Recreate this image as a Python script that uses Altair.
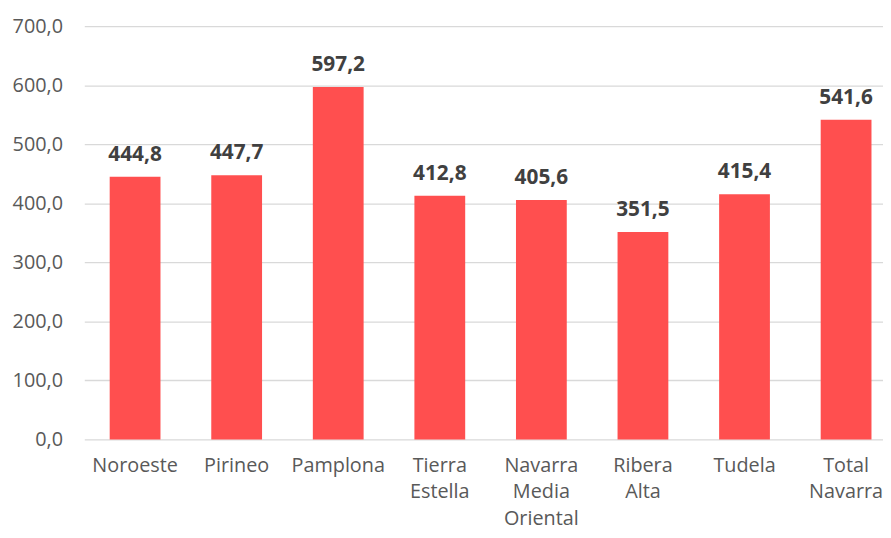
import altair as alt
import pandas as pd

categories = ["Noroeste", "Pirineo", "Pamplona", "Tierra|Estella", "Navarra|Media|Oriental",
              "Ribera|Alta", "Tudela", "Total|Navarra"]
values = [444.8, 447.7, 597.2, 412.8, 405.6, 351.5, 415.4, 541.6]

df = pd.DataFrame({"cat": categories, "val": values})

font = "Open Sans"

base = alt.Chart(df).encode(
    x=alt.X("cat:N", sort=categories,
            scale=alt.Scale(paddingInner=0.5, paddingOuter=0.25, range=[0, 820]),
            axis=alt.Axis(title=None, labelAngle=0, labelExpr="split(datum.label, '|')",
                          labelFont=font, labelFontSize=20, labelColor="#595959",
                          labelPadding=16, labelLineHeight=27, ticks=False, domain=False,
                          labelBaseline="top")),
    y=alt.Y("val:Q", scale=alt.Scale(domain=[0, 700], nice=False),
            axis=alt.Axis(title=None, values=[0, 100, 200, 300, 400, 500, 600, 700],
                          labelExpr="replace(format(datum.value, '.1f'), '.', ',')",
                          labelFont=font, labelFontSize=20, labelColor="#595959",
                          labelPadding=22, ticks=False, domain=False,
                          gridColor="#d9d9d9", gridWidth=1.3)),
)

bars = base.mark_bar(color="#FF4F4F")
labels = base.transform_calculate(
    lbl="replace(format(datum.val, '.1f'), '.', ',')"
).mark_text(font=font, fontSize=21, fontWeight="bold", color="#404040",
            baseline="bottom", dy=-12).encode(text="lbl:N")

chart = (bars + labels).properties(
    width=806, height=417,
    autosize=alt.AutoSizeParams(type="none"),
    padding={"left": 77, "top": 16, "right": 0, "bottom": 90},
).configure_view(stroke=None)

chart.save("out.html", embed_options={"renderer": "svg", "actions": False})
